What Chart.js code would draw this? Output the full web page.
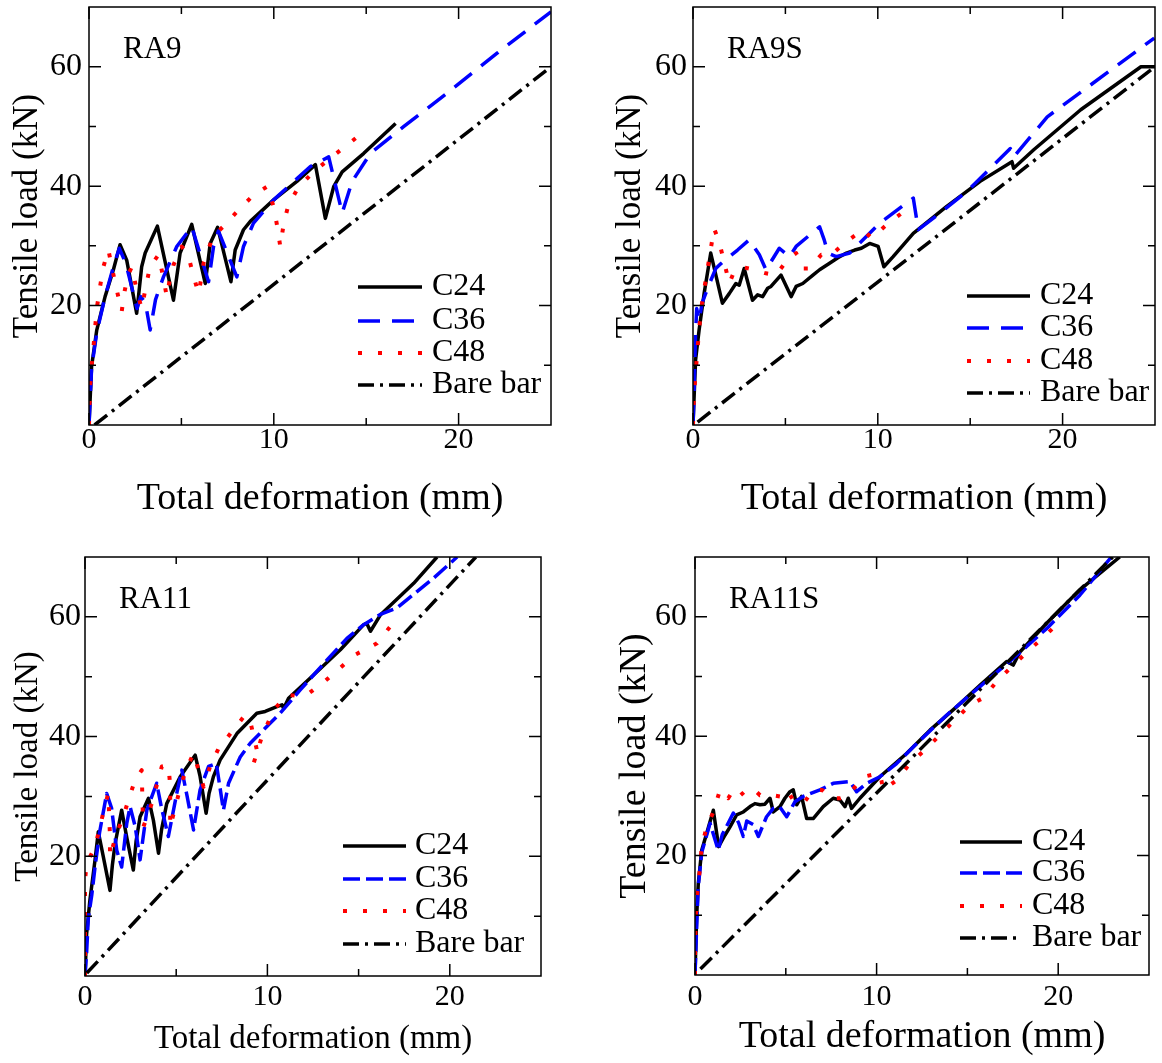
<!DOCTYPE html>
<html>
<head>
<meta charset="utf-8">
<script src="https://cdn.jsdelivr.net/npm/chart.js@4.4.1/dist/chart.umd.min.js"></script>
<style>
  html, body { margin: 0; padding: 0; background: #fff; }
  #wrap { position: relative; width: 1162px; height: 1063px; overflow: hidden; background: #fff; }
  canvas { position: absolute; }
</style>
</head>
<body>
<div id="wrap">
  <canvas id="c1"></canvas>
  <canvas id="c2"></canvas>
  <canvas id="c3"></canvas>
  <canvas id="c4"></canvas>
</div>
<script>
// ---------------- DATA (deformation mm, load kN) ----------------
const SERIES_LABELS = ['C24', 'C36', 'C48', 'Bare bar'];
const PANEL_LABELS = ['RA9', 'RA9S', 'RA11', 'RA11S'];
const X_TICK_VALUES = [0, 10, 20];
const Y_TICK_VALUES = [20, 40, 60];
const X_MINOR_TICKS = [5, 15];
const Y_MINOR_TICKS = [10, 30, 50];
const X_RANGE = [0, 25];
const Y_RANGE = [0, 70];

// RA9
const RA9_C24 = [[0,0],[0.14,9.8],[0.42,15.9],[0.87,21.5],[1.32,26],[1.68,30.2],[2.04,27.6],[2.58,18.7],[2.85,26.5],[3.04,28.8],[3.7,33.3],[4.57,20.9],[4.93,28.8],[5.56,33.6],[6.29,23.7],[6.56,30.4],[6.96,33.1],[7.68,24.0],[7.91,29.3],[8.36,32.7],[8.73,34.1],[9.99,37.7],[11.25,40.8],[12.25,43.6],[12.79,34.6],[13.24,39.9],[13.7,42.4],[14.87,45.5],[16.59,50.5]];
const RA9_C36 = [[0,0],[0.14,9.5],[0.42,15.5],[0.87,21.5],[1.32,26.5],[1.64,29.6],[2.0,27],[2.6,19.5],[2.8,21.5],[3.05,20.5],[3.31,15.9],[3.6,21],[4.03,24.8],[4.75,29.9],[5.56,33.2],[6.47,24.0],[6.74,29.9],[7.0,32.5],[8.0,24.8],[8.36,29.9],[8.9,33.8],[9.99,37.7],[11.98,43.3],[12.97,44.9],[13.7,35.5],[14.24,40.8],[15.23,45.5],[17.04,50],[19.39,55.6],[22.1,62.3],[25,69.2]];
const RA9_C48 = [[0,0],[0.05,6.1],[0.14,9.8],[0.23,12.6],[0.33,16.2],[0.42,19.5],[0.6,23.2],[0.78,26.5],[1.05,29.3],[1.4,24],[1.77,19.0],[1.9,22],[2.1,25],[2.32,26.5],[2.58,22.6],[2.85,19.5],[3.1,23.5],[3.3,26.5],[3.76,28.5],[4.0,25],[4.21,21.5],[4.35,24],[4.57,26.8],[5.02,29.9],[5.4,28],[5.65,25],[5.93,22],[6.1,25],[6.2,27.1],[6.7,31.5],[7.28,33.3],[8.09,36],[8.9,38.5],[9.63,39.9],[10.0,36.5],[10.2,33],[10.35,29.9],[10.55,34],[10.8,36.9],[11.35,39.9],[12.16,42.4],[13.06,44.7],[13.97,46.9],[14.87,49.1]];
const RA9_BARE = [[0.3,0],[25,60]];

// RA9S
const RA9S_C24 = [[0,0],[0.14,10.9],[0.33,15.9],[0.6,22],[0.96,28.8],[1.59,20.4],[1.96,22],[2.32,23.7],[2.5,23.4],[2.77,26.2],[3.22,20.9],[3.5,21.8],[3.77,21.5],[4.04,22.9],[4.22,23.2],[4.76,25.1],[5.31,21.5],[5.58,23.2],[5.94,23.7],[6.49,25.1],[6.85,26],[7.39,27.1],[7.84,28],[8.3,28.8],[8.75,29.3],[9.11,29.6],[9.56,30.4],[10.02,29.9],[10.33,26.5],[10.83,28.2],[11.92,32.1],[13.73,36.6],[15.54,40.8],[17.26,44.1],[17.35,43],[18.44,46.1],[20.98,52.8],[24.24,60],[25,60]];
const RA9S_C36 = [[0,0],[0.05,4.2],[0.09,9.6],[0.14,15.4],[0.2,19.5],[0.33,17.5],[0.5,20.5],[0.87,23.5],[1.23,26.2],[1.5,27],[2.41,29.3],[3.04,31],[3.59,28.5],[3.95,26],[4.67,29.6],[5.22,28.2],[5.58,29.9],[6.85,33.2],[7.1,31],[7.3,28.8],[7.75,28.2],[8.48,28.8],[10.1,33.8],[11.92,38],[12.19,32.7],[13.37,35.5],[14.82,39.1],[17.17,46.3],[17.35,44.9],[19.17,51.6],[24.96,64.8]];
const RA9S_C48 = [[0,0],[0.05,5],[0.24,12.6],[0.42,19],[0.6,22.6],[0.78,26],[1.14,32.9],[1.41,30.7],[1.68,27.4],[1.96,23.7],[2.2,25.5],[2.59,26.5],[3.04,26.2],[3.5,25.8],[3.95,25.4],[4.49,25.1],[5.04,27.4],[5.58,28.8],[5.94,26.2],[6.3,26.2],[6.94,28.5],[7.48,28.5],[8.3,30.7],[9.2,32.7],[9.66,31.3],[10.47,33.5],[11.38,35.7]];
const RA9S_BARE = [[0.25,0.5],[25,60]];

// RA11
const RA11_C24 = [[0,0],[0.09,7.1],[0.27,12.7],[0.55,19.4],[0.73,24.1],[1.0,20],[1.37,14.3],[1.5,18.5],[1.65,22.1],[2.01,27.7],[2.3,23],[2.65,17.7],[2.8,22.5],[3.02,26.6],[3.48,29.7],[3.75,26],[4.03,20.5],[4.2,24.5],[4.48,28.8],[5.22,33.3],[6.04,36.9],[6.3,33.5],[6.64,27.2],[6.8,30.5],[7.04,33.3],[7.41,36.1],[8.33,40.5],[9.42,43.9],[9.88,44.2],[10.52,45],[10.8,45.3],[10.89,44.7],[11.16,46.4],[12.53,50.3],[14,54.5],[15.28,58.7],[15.45,58.9],[15.65,57.6],[16.19,60.3],[18.02,65.6],[19.3,70]];
const RA11_C36 = [[0,0],[0.09,4],[0.18,9.6],[0.37,13.5],[0.55,18.2],[0.8,24],[1.19,30.5],[1.46,28],[1.74,21],[2.01,18.2],[2.29,25.5],[2.47,28.3],[2.75,25],[3.02,19.4],[3.39,27.7],[3.93,32.2],[4.2,28],[4.57,23.3],[5.03,30.5],[5.31,34.4],[5.6,30],[5.95,24.4],[6.31,31.1],[6.77,35],[7.2,35.5],[7.59,27.7],[7.87,32.2],[8.51,36.6],[9.06,38.9],[9.97,41.7],[10.7,43.9],[11.8,47.8],[13.27,52.8],[14.36,56.4],[15.28,58.7],[16.19,60.4],[17.11,61.5],[19.12,66.5],[20.4,70]];
const RA11_C48 = [[0,0],[0,8.8],[0,16],[0.09,18.8],[0.55,21.6],[0.82,24.9],[1.1,28.6],[1.28,30.5],[1.37,23.3],[1.37,19.9],[1.7,23.5],[2.1,26.6],[2.38,29.4],[2.74,32.7],[3.11,34.4],[3.15,29],[3.2,24.9],[3.66,28.8],[4.21,35],[4.57,35.2],[4.67,31.9],[4.67,28],[4.67,24.9],[5.1,30],[5.49,34.1],[5.95,37.2],[6.5,31.6],[6.86,35],[7.32,38],[8.05,40.8],[8.78,43.6],[9.1,42],[9.42,37.8],[9.24,35.5],[9.7,40],[10.34,44.4],[11.07,47],[11.6,46.8],[12.26,47.2],[13.17,49.3],[14,51.5],[14.82,53.7],[15.53,54.8],[16.01,55.6],[16.74,58.4]];
const RA11_BARE = [[0.1,0.5],[21.43,70]];

// RA11S
const RA11S_C24 = [[0,0],[0.09,9.8],[0.18,15.3],[0.37,20.9],[0.64,23.7],[1.01,27.6],[1.3,21.5],[1.65,23.4],[1.93,24.8],[2.29,26.8],[2.66,27.3],[3.03,28.2],[3.3,28.7],[3.58,28.5],[3.85,28.6],[4.13,29.6],[4.31,27.3],[4.68,28.2],[4.95,29.6],[5.23,30.7],[5.41,31],[5.6,28.5],[5.87,29.9],[6.15,26.2],[6.51,26.2],[7.06,28.2],[7.61,29.6],[7.98,29.3],[8.26,28.2],[8.44,29.6],[8.62,27.9],[9.08,29.6],[10.18,33.2],[11.65,37.1],[12.94,41],[14.4,44.9],[15.69,48.5],[17.16,52.5],[17.52,51.9],[17.89,54.1],[19.36,58.9],[21.19,64.5],[23.39,70]];
const RA11S_C36 = [[0,0],[0.09,8],[0.18,14.8],[0.37,20.5],[0.83,25.4],[1.28,20.9],[1.5,23.5],[2.11,27.1],[2.4,25.5],[2.66,23.2],[2.85,25.8],[3.2,25.2],[3.49,23.2],[3.94,26.5],[4.31,27.9],[4.68,28.1],[5.05,26.5],[5.5,29],[5.96,29.9],[6.88,31],[7.61,32.1],[8.53,32.4],[8.9,30.7],[9.45,32.1],[10.18,33.2],[11.1,35.4],[12.02,38.2],[13.85,43.5],[15.69,48.3],[17.52,53],[19.36,58],[21.19,63.6],[22.93,70]];
const RA11S_C48 = [[0,0],[0,5.5],[0.09,12.6],[0.28,18.1],[0.37,21.5],[0.64,24.8],[1.01,27.3],[1.38,31],[1.83,29.6],[2.11,31],[2.47,30],[2.84,31],[3.21,31.2],[3.58,30.1],[4.1,30.2],[4.68,29.9],[5.05,31],[5.41,29.3],[5.96,28.7],[6.51,31],[7.0,31],[7.52,29.6],[8.0,29.6],[8.4,30],[9.27,33.2],[10.18,33.8],[10.37,31],[11.1,32.6],[11.83,35.4],[12.66,37.7],[13.49,40.2],[14.31,42.7],[15.13,45.2],[15.87,46.4],[16.6,49.1],[17.43,51.6],[18.25,54],[19.13,56.4],[19.96,58.8]];
const RA11S_BARE = [[0.3,1],[23.0,70]];

const PANEL_SERIES = [
  [RA9_C24, RA9_C36, RA9_C48, RA9_BARE],
  [RA9S_C24, RA9S_C36, RA9S_C48, RA9S_BARE],
  [RA11_C24, RA11_C36, RA11_C48, RA11_BARE],
  [RA11S_C24, RA11S_C36, RA11S_C48, RA11S_BARE]
];

// ---------------- LAYOUT / STYLE ----------------
const FONT = '"Liberation Serif", "Times New Roman", serif';
const PANELS = [
  { id:'c1', left:0,   top:0,   w:581, h:531, area:{l:89,  r:551, t:7,  b:425}, xTickPad:0, yTickPad:7, xTitleSize:38, xTitlePB:9,  yTitleSize:35, yTitlePT:7,
    legend:{x1:-193, x2:-129, tx:-119, rows:[-138,-104,-72,-40]}, blueDash:[22,12] },
  { id:'c2', left:581, top:0,   w:581, h:531, area:{l:112, r:574, t:7,  b:425}, xTickPad:0, yTickPad:6, xTitleSize:38, xTitlePB:9,  yTitleSize:35, yTitlePT:29,
    legend:{x1:-188, x2:-125, tx:-115, rows:[-129,-97,-64,-32]}, blueDash:[22,12] },
  { id:'c3', left:0,   top:531, w:581, h:532, area:{l:85,  r:541, t:26, b:445}, xTickPad:6, yTickPad:4, xTitleSize:33, xTitlePB:4,  yTitleSize:33, yTitlePT:9,
    legend:{x1:-198, x2:-135, tx:-126, rows:[-130,-97,-65,-32]}, blueDash:[17,6] },
  { id:'c4', left:581, top:531, w:581, h:532, area:{l:114, r:568, t:26, b:444}, xTickPad:7, yTickPad:8, xTitleSize:38, xTitlePB:3,  yTitleSize:38, yTitlePT:31,
    legend:{x1:-189, x2:-127, tx:-117, rows:[-133,-102,-69,-37]}, blueDash:[17,6] }
];

const SERIES_STYLE = [
  { color:'#000000', width:3.5, dash:[],            order:3 },
  { color:'#0000ff', width:3.5, dash:null,          order:2 },
  { color:'#ff0000', width:4,   dash:[4,16],        order:1 },
  { color:'#000000', width:3.5, dash:[16,6,3,6],    order:0 }
];

const framePlugin = {
  id: 'frame',
  afterDraw(chart, args, opts) {
    const { ctx, chartArea: a, scales: { x, y } } = chart;
    ctx.save();
    ctx.strokeStyle = '#000';
    ctx.lineWidth = 1.5;
    ctx.setLineDash([]);
    ctx.strokeRect(a.left, a.top, a.right - a.left, a.bottom - a.top);
    const drawX = (vals, len) => {
      vals.forEach(v => {
        const px = x.getPixelForValue(v);
        ctx.beginPath();
        ctx.moveTo(px, a.bottom); ctx.lineTo(px, a.bottom - len);
        ctx.moveTo(px, a.top); ctx.lineTo(px, a.top + len);
        ctx.stroke();
      });
    };
    const drawY = (vals, len) => {
      vals.forEach(v => {
        const py = y.getPixelForValue(v);
        ctx.beginPath();
        ctx.moveTo(a.left, py); ctx.lineTo(a.left + len, py);
        ctx.moveTo(a.right, py); ctx.lineTo(a.right - len, py);
        ctx.stroke();
      });
    };
    drawX(X_TICK_VALUES, 12); drawX(X_MINOR_TICKS, 7);
    drawY(Y_TICK_VALUES, 12); drawY(Y_MINOR_TICKS, 7);

    // panel label
    ctx.fillStyle = '#000';
    ctx.font = `31px ${FONT}`;
    ctx.textAlign = 'left';
    ctx.textBaseline = 'alphabetic';
    ctx.fillText(opts.label, a.left + 34, a.top + 51);

    // legend
    const lg = opts.legend;
    ctx.font = `32px ${FONT}`;
    ctx.textBaseline = 'middle';
    chart.data.datasets.forEach((ds, i) => {
      const yy = a.bottom + lg.rows[i];
      ctx.beginPath();
      ctx.strokeStyle = ds.borderColor;
      ctx.lineWidth = ds.borderWidth;
      ctx.setLineDash(ds.borderDash || []);
      ctx.lineCap = 'butt';
      ctx.moveTo(a.right + lg.x1, yy);
      ctx.lineTo(a.right + lg.x2, yy);
      ctx.stroke();
      ctx.setLineDash([]);
      ctx.fillStyle = '#000';
      ctx.fillText(ds.label, a.right + lg.tx, yy);
    });
    ctx.restore();
  }
};

PANELS.forEach((p, idx) => {
  const cv = document.getElementById(p.id);
  cv.width = p.w; cv.height = p.h;
  cv.style.left = p.left + 'px'; cv.style.top = p.top + 'px';
  cv.style.width = p.w + 'px'; cv.style.height = p.h + 'px';

  const datasets = PANEL_SERIES[idx].map((pts, i) => {
    const st = SERIES_STYLE[i];
    return {
      label: SERIES_LABELS[i],
      data: pts.map(([xv, yv]) => ({ x: xv, y: yv })),
      borderColor: st.color,
      backgroundColor: st.color,
      borderWidth: st.width,
      borderDash: st.dash === null ? p.blueDash : st.dash,
      borderCapStyle: 'butt',
      borderJoinStyle: 'round',
      pointRadius: 0,
      tension: 0,
      fill: false,
      order: st.order
    };
  });

  new Chart(cv, {
    type: 'line',
    data: { datasets },
    options: {
      responsive: false,
      animation: false,
      devicePixelRatio: 1,
      events: [],
      layout: { padding: { left: 0, top: p.area.t, right: p.w - p.area.r, bottom: 0 } },
      plugins: {
        legend: { display: false },
        tooltip: { enabled: false },
        frame: { label: PANEL_LABELS[idx], legend: p.legend }
      },
      scales: {
        x: {
          type: 'linear', min: X_RANGE[0], max: X_RANGE[1],
          afterBuildTicks: s => { s.ticks = X_TICK_VALUES.map(v => ({ value: v })); },
          afterFit: s => { s.height = p.h - p.area.b; s.paddingLeft = 0; s.paddingRight = 0; },
          ticks: { color: '#000', font: { family: FONT, size: 30, lineHeight: 1 }, padding: p.xTickPad, maxRotation: 0, autoSkip: false },
          grid: { display: false, drawTicks: false },
          border: { display: false },
          title: { display: true, text: 'Total deformation (mm)', color: '#000',
                   font: { family: FONT, size: p.xTitleSize }, padding: { top: 0, bottom: p.xTitlePB } }
        },
        y: {
          type: 'linear', min: Y_RANGE[0], max: Y_RANGE[1],
          afterBuildTicks: s => { s.ticks = Y_TICK_VALUES.map(v => ({ value: v })); },
          afterFit: s => { s.width = p.area.l; s.paddingTop = 0; s.paddingBottom = 0; },
          ticks: { color: '#000', font: { family: FONT, size: 32 }, padding: p.yTickPad, autoSkip: false },
          grid: { display: false, drawTicks: false },
          border: { display: false },
          title: { display: true, text: 'Tensile load (kN)', color: '#000',
                   font: { family: FONT, size: p.yTitleSize }, padding: { top: p.yTitlePT, bottom: 0 } }
        }
      }
    },
    plugins: [framePlugin]
  });
});
</script>
</body>
</html>
